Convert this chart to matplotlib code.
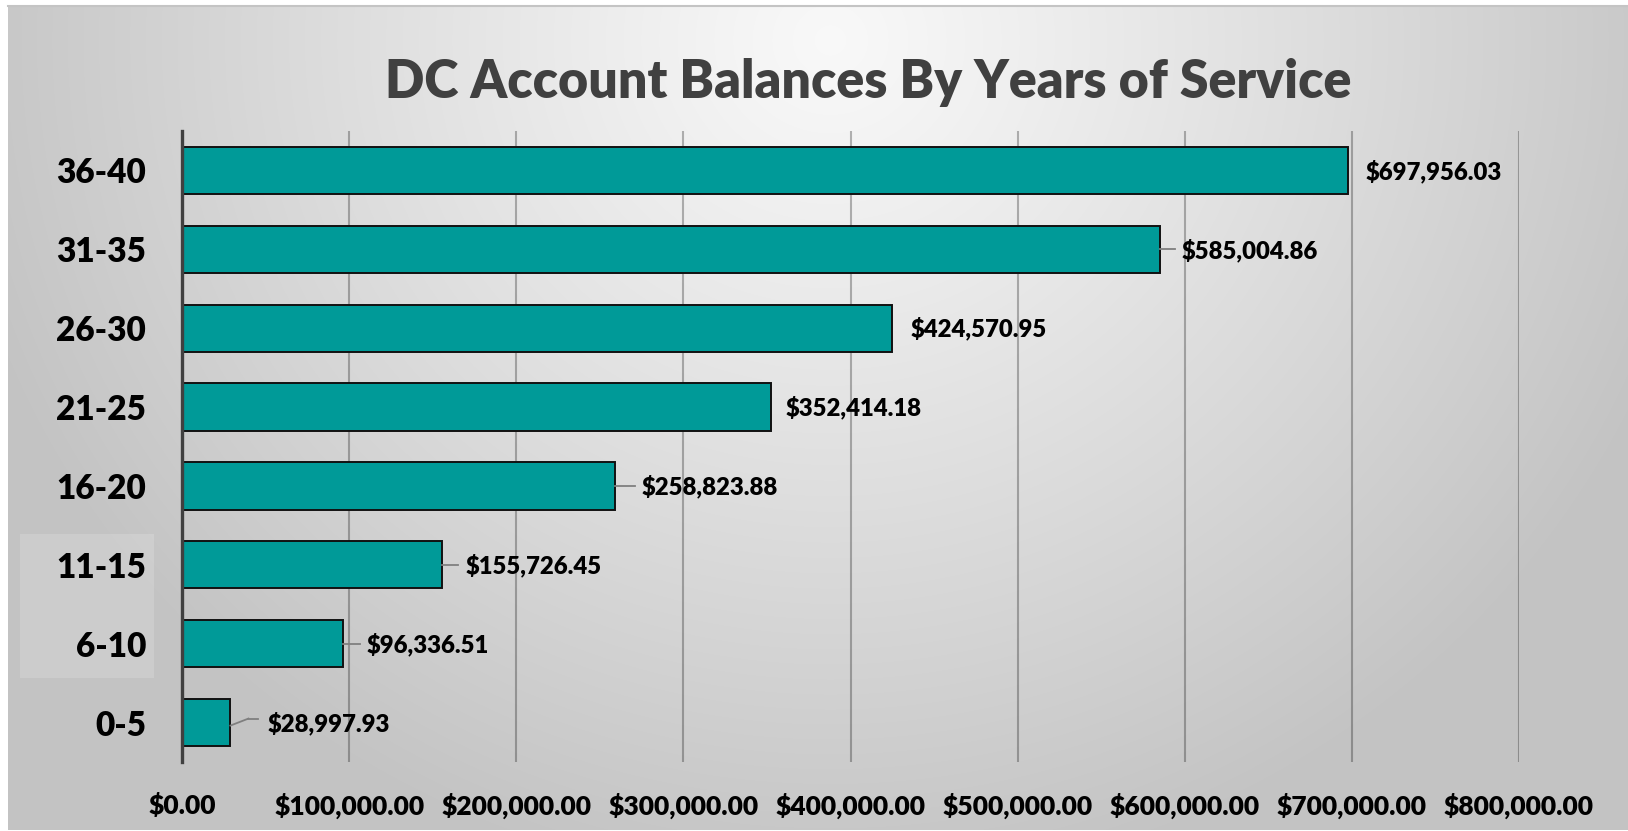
import numpy as np
import matplotlib
matplotlib.use("Agg")
import matplotlib.pyplot as plt
from matplotlib.patches import Rectangle
from matplotlib.lines import Line2D
from matplotlib.ticker import FuncFormatter
import matplotlib.transforms as mtransforms

plt.rcParams["font.family"] = ["Lato", "DejaVu Sans"]
TEXT_WEIGHT = "heavy"
plt.rcParams["font.weight"] = TEXT_WEIGHT

# Data
service_bands = ["0-5", "6-10", "11-15", "16-20", "21-25", "26-30", "31-35", "36-40"]
balances = [28997.93, 96336.51, 155726.45, 258823.88, 352414.18, 424570.95, 585004.86, 697956.03]
x_ticks = [0, 100000, 200000, 300000, 400000, 500000, 600000, 700000, 800000]
title = "DC Account Balances By Years of Service"

# Label styling (gap between bar end and label, in pixels; leader line on/off)
label_gap_px = [37, 24, 23, 27, 15, 19, 22, 17]
has_leader = [True, True, True, True, False, False, True, False]

W, H, DPI = 1628, 831, 100
fig = plt.figure(figsize=(W / DPI, H / DPI), dpi=DPI)
fig.patch.set_facecolor("white")

# Soft radial gradient backdrop
bx0, by0, bx1, by1 = 8, 6, 1628, 830
gx = np.arange(bx0, bx1)
gy = np.arange(by0, by1)
GX, GY = np.meshgrid(gx, gy)
cx, cy = 830, 40
r = np.sqrt(((GX - cx) / 900.0) ** 2 + ((GY - cy) / 860.0) ** 2)
val = 0.975 - 0.21 * np.clip(r, 0, 1.0) ** 1.1
val = np.clip(val, 0.765, 1.0)
bg_ax = fig.add_axes([bx0 / W, 1 - by1 / H, (bx1 - bx0) / W, (by1 - by0) / H], zorder=-10)
bg_ax.imshow(np.dstack([val, val, val]), aspect="auto", interpolation="bilinear")
bg_ax.set_axis_off()

# Thin top border line
fig.add_artist(Line2D([bx0 / W, 1], [1 - 6 / H, 1 - 6 / H], color="#c4c4c4", lw=1.5,
                      transform=fig.transFigure, zorder=-5))

# Faint lighter patch behind two of the category labels
fig.add_artist(Rectangle((20 / W, 1 - 678 / H), 134 / W, 144 / H, transform=fig.transFigure,
                         facecolor="white", alpha=0.16, edgecolor="none", zorder=-5))

# Main plot area
ax_left, ax_right, ax_top, ax_bottom = 182, 1519, 131, 762
ax = fig.add_axes([ax_left / W, 1 - ax_bottom / H, (ax_right - ax_left) / W, (ax_bottom - ax_top) / H])
ax.set_facecolor("none")

ypos = np.arange(len(service_bands))
ax.barh(ypos, balances, height=0.6, color="#009a98", edgecolor="#111111", linewidth=1.4, zorder=3)

ax.set_xlim(x_ticks[0], x_ticks[-1])
ax.set_ylim(-0.5, len(service_bands) - 0.5)
ax.set_xticks(x_ticks)
ax.xaxis.set_major_formatter(FuncFormatter(lambda v, p: f"${v:,.2f}"))
ax.set_yticks(ypos)
ax.set_yticklabels(service_bands)

ax.grid(axis="x", color="black", alpha=0.28, linewidth=1.5, zorder=1)
ax.grid(axis="y", visible=False)
ax.set_axisbelow(True)

for side in ["top", "right", "bottom"]:
    ax.spines[side].set_visible(False)
ax.spines["left"].set_color("#404040")
ax.spines["left"].set_linewidth(2.4)
ax.spines["left"].set_zorder(4)

ax.tick_params(axis="both", length=0)
ax.tick_params(axis="y", pad=26, labelsize=24, labelcolor="black")
ax.tick_params(axis="x", pad=22, labelsize=19, labelcolor="black")
for lbl in ax.get_xticklabels() + ax.get_yticklabels():
    lbl.set_fontweight(TEXT_WEIGHT)

# Value labels with short leader lines
for yi, val_, gap, leader in zip(ypos, balances, label_gap_px, has_leader):
    tr = mtransforms.offset_copy(ax.transData, fig=fig, x=gap, y=-8.5, units="dots")
    ax.text(val_, yi, f"${val_:,.2f}", transform=tr, ha="left", va="baseline",
            fontsize=17.2, fontweight=TEXT_WEIGHT, color="black", zorder=5, clip_on=False)
    if leader:
        if gap > 30:
            pts_x = [0, 18, gap - 9]
            pts_y = [-3, 4, 4]
        else:
            pts_x = [0, gap - 7]
            pts_y = [0, 0]
        for (x0, y0), (x1, y1) in zip(zip(pts_x[:-1], pts_y[:-1]), zip(pts_x[1:], pts_y[1:])):
            p0 = mtransforms.offset_copy(ax.transData, fig=fig, x=x0, y=y0, units="dots").transform((val_, yi))
            p1 = mtransforms.offset_copy(ax.transData, fig=fig, x=x1, y=y1, units="dots").transform((val_, yi))
            fig.add_artist(Line2D([p0[0] / W, p1[0] / W], [p0[1] / H, p1[1] / H],
                                  transform=fig.transFigure, color="#7f7f7f", lw=1.3, zorder=6))

# Title
fig.text(868 / W, 1 - 98 / H, title, ha="center", va="baseline", fontsize=37.4,
         fontweight=TEXT_WEIGHT, color="#404040")

fig.savefig("out.png", dpi=DPI)
